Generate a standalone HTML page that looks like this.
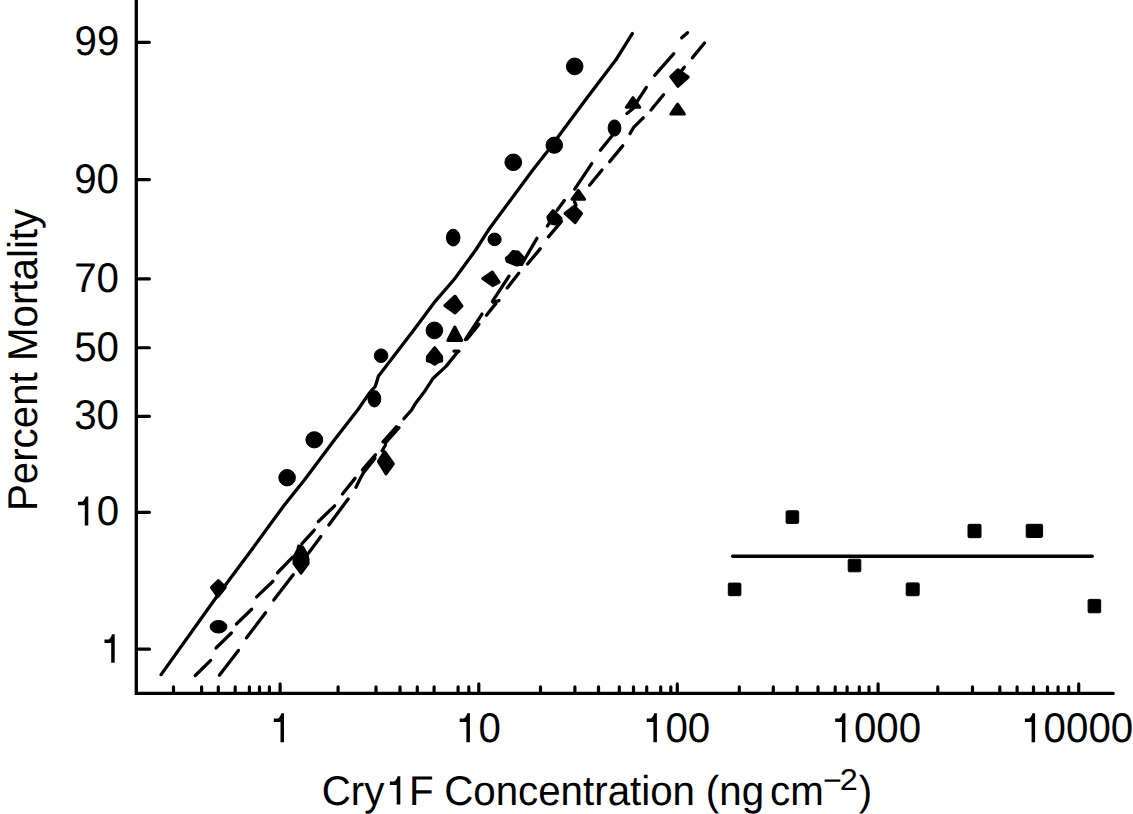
<!DOCTYPE html>
<html><head><meta charset="utf-8"><style>
html,body{margin:0;padding:0;background:#fff;}
svg{display:block;}
text{font-family:"Liberation Sans", sans-serif;fill:#000;text-rendering:geometricPrecision;}
</style></head><body>
<svg width="1133" height="814" viewBox="0 0 1133 814">
<rect width="1133" height="814" fill="#fff"/>
<g stroke="#000" fill="#000">
<path d="M136.3,-5 L136.3,693.4 L1113.2,693.4" fill="none" stroke-width="3.3" stroke-linecap="round" stroke-linejoin="miter"/>
<line x1="136.9" y1="42.35" x2="149.4" y2="42.35" stroke-width="3.2" stroke-linecap="round"/>
<line x1="136.9" y1="179.55" x2="149.4" y2="179.55" stroke-width="3.2" stroke-linecap="round"/>
<line x1="136.9" y1="278.95" x2="149.4" y2="278.95" stroke-width="3.2" stroke-linecap="round"/>
<line x1="136.9" y1="347.75" x2="149.4" y2="347.75" stroke-width="3.2" stroke-linecap="round"/>
<line x1="136.9" y1="416.34999999999997" x2="149.4" y2="416.34999999999997" stroke-width="3.2" stroke-linecap="round"/>
<line x1="136.9" y1="512.35" x2="149.4" y2="512.35" stroke-width="3.2" stroke-linecap="round"/>
<line x1="136.9" y1="649.15" x2="149.4" y2="649.15" stroke-width="3.2" stroke-linecap="round"/>
<line x1="280.1" y1="693.4" x2="280.1" y2="683.9" stroke-width="3.2" stroke-linecap="round"/>
<line x1="478.8" y1="693.4" x2="478.8" y2="683.9" stroke-width="3.2" stroke-linecap="round"/>
<line x1="677.3" y1="693.4" x2="677.3" y2="683.9" stroke-width="3.2" stroke-linecap="round"/>
<line x1="878.1" y1="693.4" x2="878.1" y2="683.9" stroke-width="3.2" stroke-linecap="round"/>
<line x1="1078.7" y1="693.4" x2="1078.7" y2="683.9" stroke-width="3.2" stroke-linecap="round"/>
<line x1="173.5" y1="693.4" x2="173.5" y2="686.9" stroke-width="3.2" stroke-linecap="round"/>
<line x1="201.6" y1="693.4" x2="201.6" y2="686.9" stroke-width="3.2" stroke-linecap="round"/>
<line x1="218.3" y1="693.4" x2="218.3" y2="686.9" stroke-width="3.2" stroke-linecap="round"/>
<line x1="235.2" y1="693.4" x2="235.2" y2="686.9" stroke-width="3.2" stroke-linecap="round"/>
<line x1="249.4" y1="693.4" x2="249.4" y2="686.9" stroke-width="3.2" stroke-linecap="round"/>
<line x1="259.5" y1="693.4" x2="259.5" y2="686.9" stroke-width="3.2" stroke-linecap="round"/>
<line x1="269.4" y1="693.4" x2="269.4" y2="686.9" stroke-width="3.2" stroke-linecap="round"/>
<line x1="338.1" y1="693.4" x2="338.1" y2="686.9" stroke-width="3.2" stroke-linecap="round"/>
<line x1="376.0" y1="693.4" x2="376.0" y2="686.9" stroke-width="3.2" stroke-linecap="round"/>
<line x1="400.0" y1="693.4" x2="400.0" y2="686.9" stroke-width="3.2" stroke-linecap="round"/>
<line x1="417.3" y1="693.4" x2="417.3" y2="686.9" stroke-width="3.2" stroke-linecap="round"/>
<line x1="434.1" y1="693.4" x2="434.1" y2="686.9" stroke-width="3.2" stroke-linecap="round"/>
<line x1="458.1" y1="693.4" x2="458.1" y2="686.9" stroke-width="3.2" stroke-linecap="round"/>
<line x1="468.8" y1="693.4" x2="468.8" y2="686.9" stroke-width="3.2" stroke-linecap="round"/>
<line x1="540.5" y1="693.4" x2="540.5" y2="686.9" stroke-width="3.2" stroke-linecap="round"/>
<line x1="574.9" y1="693.4" x2="574.9" y2="686.9" stroke-width="3.2" stroke-linecap="round"/>
<line x1="598.5" y1="693.4" x2="598.5" y2="686.9" stroke-width="3.2" stroke-linecap="round"/>
<line x1="619.3" y1="693.4" x2="619.3" y2="686.9" stroke-width="3.2" stroke-linecap="round"/>
<line x1="633.5" y1="693.4" x2="633.5" y2="686.9" stroke-width="3.2" stroke-linecap="round"/>
<line x1="646.7" y1="693.4" x2="646.7" y2="686.9" stroke-width="3.2" stroke-linecap="round"/>
<line x1="660.7" y1="693.4" x2="660.7" y2="686.9" stroke-width="3.2" stroke-linecap="round"/>
<line x1="670.8" y1="693.4" x2="670.8" y2="686.9" stroke-width="3.2" stroke-linecap="round"/>
<line x1="739.3" y1="693.4" x2="739.3" y2="686.9" stroke-width="3.2" stroke-linecap="round"/>
<line x1="773.3" y1="693.4" x2="773.3" y2="686.9" stroke-width="3.2" stroke-linecap="round"/>
<line x1="797.2" y1="693.4" x2="797.2" y2="686.9" stroke-width="3.2" stroke-linecap="round"/>
<line x1="818.0" y1="693.4" x2="818.0" y2="686.9" stroke-width="3.2" stroke-linecap="round"/>
<line x1="835.2" y1="693.4" x2="835.2" y2="686.9" stroke-width="3.2" stroke-linecap="round"/>
<line x1="847.1" y1="693.4" x2="847.1" y2="686.9" stroke-width="3.2" stroke-linecap="round"/>
<line x1="859.3" y1="693.4" x2="859.3" y2="686.9" stroke-width="3.2" stroke-linecap="round"/>
<line x1="869.0" y1="693.4" x2="869.0" y2="686.9" stroke-width="3.2" stroke-linecap="round"/>
<line x1="937.8" y1="693.4" x2="937.8" y2="686.9" stroke-width="3.2" stroke-linecap="round"/>
<line x1="972.5" y1="693.4" x2="972.5" y2="686.9" stroke-width="3.2" stroke-linecap="round"/>
<line x1="999.8" y1="693.4" x2="999.8" y2="686.9" stroke-width="3.2" stroke-linecap="round"/>
<line x1="1017.1" y1="693.4" x2="1017.1" y2="686.9" stroke-width="3.2" stroke-linecap="round"/>
<line x1="1033.5" y1="693.4" x2="1033.5" y2="686.9" stroke-width="3.2" stroke-linecap="round"/>
<line x1="1047.5" y1="693.4" x2="1047.5" y2="686.9" stroke-width="3.2" stroke-linecap="round"/>
<line x1="1058.1" y1="693.4" x2="1058.1" y2="686.9" stroke-width="3.2" stroke-linecap="round"/>
<line x1="1068.7" y1="693.4" x2="1068.7" y2="686.9" stroke-width="3.2" stroke-linecap="round"/>
<polyline points="161.1,674.6 216.3,597.2 251.5,550 284,505.5 304.4,480 334.9,439.3 357.7,410 369.5,392.9 375.2,386.5 377.3,380 378.5,376 380.5,373.5 413.8,330 435.4,301.1 454.5,279 475.7,250 488.6,229.8 532.8,170 548.5,150 557.8,137.2 585.4,100 615.9,59.8 632.3,33.6" fill="none" stroke-width="3.3" stroke-linecap="round" stroke-linejoin="round"/>
<line x1="195.33" y1="675.48" x2="210.67" y2="660.42" stroke-width="3.3" stroke-linecap="round"/>
<line x1="216.03" y1="647.98" x2="231.37" y2="633.02" stroke-width="3.3" stroke-linecap="round"/>
<line x1="236.43" y1="623.98" x2="251.67" y2="609.22" stroke-width="3.3" stroke-linecap="round"/>
<line x1="256.63" y1="596.89" x2="272.97" y2="581.31" stroke-width="3.3" stroke-linecap="round"/>
<line x1="277.52" y1="572.77" x2="292.68" y2="557.13" stroke-width="3.3" stroke-linecap="round"/>
<line x1="301.8" y1="543.86" x2="314.3" y2="530.04" stroke-width="3.3" stroke-linecap="round"/>
<line x1="318.43" y1="521.48" x2="334.57" y2="505.82" stroke-width="3.3" stroke-linecap="round"/>
<line x1="342.48" y1="493.93" x2="355.02" y2="478.37" stroke-width="3.3" stroke-linecap="round"/>
<line x1="362.39" y1="469.95" x2="375.41" y2="454.85" stroke-width="3.3" stroke-linecap="round"/>
<line x1="219.37" y1="675.22" x2="238.43" y2="650.38" stroke-width="3.3" stroke-linecap="round"/>
<line x1="246.56" y1="637.82" x2="265.54" y2="612.78" stroke-width="3.3" stroke-linecap="round"/>
<line x1="273.76" y1="600.12" x2="293.24" y2="574.68" stroke-width="3.3" stroke-linecap="round"/>
<line x1="308.16" y1="553.62" x2="320.84" y2="536.48" stroke-width="3.3" stroke-linecap="round"/>
<line x1="328.86" y1="524.92" x2="348.14" y2="498.98" stroke-width="3.3" stroke-linecap="round"/>
<line x1="383.0" y1="441.85" x2="396.6" y2="426.65" stroke-width="3.3" stroke-linecap="round"/>
<line x1="385.2" y1="443.15" x2="399.0" y2="427.75" stroke-width="3.3" stroke-linecap="round"/>
<line x1="382.1" y1="450.78" x2="385.5" y2="445.02" stroke-width="3.3" stroke-linecap="round"/>
<line x1="454.1" y1="351.2" x2="458.9" y2="351.2" stroke-width="3.3" stroke-linecap="round"/>
<line x1="465.43" y1="339.5" x2="481.97" y2="314.1" stroke-width="3.3" stroke-linecap="round"/>
<line x1="467.18" y1="339.03" x2="478.92" y2="324.37" stroke-width="3.3" stroke-linecap="round"/>
<line x1="486.47" y1="315.33" x2="495.93" y2="303.37" stroke-width="3.3" stroke-linecap="round"/>
<line x1="493.18" y1="302.24" x2="499.02" y2="300.56" stroke-width="3.3" stroke-linecap="round"/>
<line x1="492.43" y1="301.3" x2="508.97" y2="276.2" stroke-width="3.3" stroke-linecap="round"/>
<line x1="507.17" y1="288.03" x2="518.73" y2="273.27" stroke-width="3.3" stroke-linecap="round"/>
<line x1="521.7" y1="264.38" x2="536.9" y2="238.32" stroke-width="3.3" stroke-linecap="round"/>
<line x1="527.49" y1="263.94" x2="540.21" y2="248.86" stroke-width="3.3" stroke-linecap="round"/>
<line x1="548.39" y1="236.84" x2="561.31" y2="221.56" stroke-width="3.3" stroke-linecap="round"/>
<line x1="547.34" y1="226.0" x2="549.66" y2="222.6" stroke-width="3.3" stroke-linecap="round"/>
<line x1="557.15" y1="210.32" x2="564.35" y2="200.48" stroke-width="3.3" stroke-linecap="round"/>
<line x1="574.73" y1="189.1" x2="591.77" y2="163.6" stroke-width="3.3" stroke-linecap="round"/>
<line x1="574.54" y1="201.75" x2="576.06" y2="205.25" stroke-width="3.3" stroke-linecap="round"/>
<line x1="589.48" y1="185.24" x2="602.02" y2="169.96" stroke-width="3.3" stroke-linecap="round"/>
<line x1="600.38" y1="150.33" x2="611.92" y2="135.97" stroke-width="3.3" stroke-linecap="round"/>
<line x1="609.68" y1="161.64" x2="622.72" y2="145.86" stroke-width="3.3" stroke-linecap="round"/>
<line x1="626.96" y1="113.52" x2="633.74" y2="107.98" stroke-width="3.3" stroke-linecap="round"/>
<line x1="634.83" y1="105.0" x2="646.37" y2="87.4" stroke-width="3.3" stroke-linecap="round"/>
<line x1="650.98" y1="110.04" x2="663.52" y2="94.76" stroke-width="3.3" stroke-linecap="round"/>
<line x1="654.7" y1="75.35" x2="673.8" y2="53.65" stroke-width="3.3" stroke-linecap="round"/>
<line x1="681.67" y1="70.63" x2="684.33" y2="67.17" stroke-width="3.3" stroke-linecap="round"/>
<line x1="681.75" y1="37.8" x2="687.55" y2="32.7" stroke-width="3.3" stroke-linecap="round"/>
<line x1="692.28" y1="57.84" x2="704.52" y2="43.06" stroke-width="3.3" stroke-linecap="round"/>
<polyline points="356,487.3 359.5,480 363.5,472.6 375,458.2" fill="none" stroke-width="3.3" stroke-linecap="round" stroke-linejoin="round"/>
<polyline points="403.9,418.7 411.6,410 415.6,403.2 424.9,390.9 433.2,378.2 446,366.4 458,351.5" fill="none" stroke-width="3.3" stroke-linecap="round" stroke-linejoin="round"/>
<polyline points="630,133.6 633.4,127.7 643.2,117.8" fill="none" stroke-width="3.3" stroke-linecap="round" stroke-linejoin="round"/>
<line x1="732.7" y1="556.3" x2="1092.2" y2="556.3" stroke-width="3.4" stroke-linecap="round"/>
<ellipse cx="218.5" cy="626.7" rx="8.4" ry="6.3"/>
<ellipse cx="287.1" cy="477.7" rx="8.3" ry="8.2"/>
<ellipse cx="314.3" cy="439.8" rx="8.4" ry="8.1"/>
<ellipse cx="374.4" cy="398.8" rx="6.4" ry="8.2"/>
<ellipse cx="381.1" cy="355.7" rx="6.8" ry="6.8"/>
<ellipse cx="434.4" cy="330.4" rx="8.3" ry="8.4"/>
<ellipse cx="453.2" cy="237.6" rx="6.8" ry="8.4"/>
<ellipse cx="494.6" cy="239.4" rx="6.6" ry="6.3"/>
<ellipse cx="513.3" cy="162.3" rx="8.4" ry="8.3"/>
<ellipse cx="554.3" cy="145.2" rx="8.3" ry="8.1"/>
<ellipse cx="574.7" cy="66.4" rx="8.3" ry="8.4"/>
<ellipse cx="614.5" cy="128.0" rx="6.4" ry="8.1"/>
<polygon points="218.40,580.55 225.29,587.27 218.02,596.56 211.29,587.48" stroke="#000" stroke-width="3.0" stroke-linejoin="round"/>
<polygon points="298.57,546.08 302.42,546.87 307.09,554.87 308.05,559.58 308.05,563.65 301.00,573.23 294.05,563.66 294.05,556.69 297.71,549.97" stroke="#000" stroke-width="3.0" stroke-linejoin="round"/>
<polygon points="384.73,451.64 393.38,463.89 386.05,473.95 378.39,461.41" stroke="#000" stroke-width="3.0" stroke-linejoin="round"/>
<polygon points="455.07,296.23 461.93,306.11 455.12,312.92 444.79,305.63" stroke="#000" stroke-width="3.0" stroke-linejoin="round"/>
<polygon points="492.39,272.04 499.12,282.13 492.66,285.62 482.81,278.52" stroke="#000" stroke-width="3.0" stroke-linejoin="round"/>
<polygon points="512.92,251.57 518.15,251.93 522.89,257.22 521.56,264.15 516.58,265.02 507.03,261.24 506.25,258.10 509.22,255.85" stroke="#000" stroke-width="3.0" stroke-linejoin="round"/>
<polygon points="552.97,210.60 560.80,218.06 561.18,220.69 554.80,224.10 549.60,222.78 547.83,216.87" stroke="#000" stroke-width="3.0" stroke-linejoin="round"/>
<polygon points="574.34,206.29 581.62,213.49 575.17,222.67 564.97,213.45" stroke="#000" stroke-width="3.0" stroke-linejoin="round"/>
<polygon points="677.87,69.77 688.20,77.07 677.91,86.29 670.70,76.59" stroke="#000" stroke-width="3.0" stroke-linejoin="round"/>
<polygon points="434.69,347.62 441.65,356.75 441.65,361.08 438.30,361.69 434.67,364.29 430.61,361.71 427.35,360.74 427.35,356.76" stroke="#000" stroke-width="3.0" stroke-linejoin="round"/>
<polygon points="454.80,327.03 461.77,340.45 447.83,340.45" stroke="#000" stroke-width="3.0" stroke-linejoin="round"/>
<polygon points="578.30,190.40 584.65,199.35 571.95,199.35" stroke="#000" stroke-width="3.0" stroke-linejoin="round"/>
<polygon points="633.00,97.70 639.75,107.25 626.25,107.25" stroke="#000" stroke-width="3.0" stroke-linejoin="round"/>
<polygon points="677.60,104.13 684.38,114.05 670.82,114.05" stroke="#000" stroke-width="3.0" stroke-linejoin="round"/>
<rect x="728.3000000000001" y="583.1" width="12.6" height="12.6" rx="1.2"/>
<rect x="786.1" y="510.8" width="12.6" height="12.6" rx="1.2"/>
<rect x="848.2" y="559.2" width="12.6" height="12.6" rx="1.2"/>
<rect x="906.2" y="582.9" width="13" height="12.8" rx="1.2"/>
<rect x="968.0" y="524.3" width="13" height="13.4" rx="1.2"/>
<rect x="1026.2" y="524.3" width="16.4" height="13.2" rx="1.2"/>
<rect x="1088.1000000000001" y="599.4" width="12.6" height="13.4" rx="1.2"/>
</g>
<g>
<text transform="translate(74.50,55.40) scale(0.9687,1)" font-size="41.6">9</text>
<text transform="translate(96.91,55.40) scale(0.9687,1)" font-size="41.6">9</text>
<text transform="translate(74.20,192.60) scale(0.9687,1)" font-size="41.6">9</text>
<text transform="translate(96.61,192.60) scale(0.9687,1)" font-size="41.6">0</text>
<text transform="translate(74.20,292.00) scale(0.9687,1)" font-size="41.6">7</text>
<text transform="translate(96.61,292.00) scale(0.9687,1)" font-size="41.6">0</text>
<text transform="translate(74.20,360.80) scale(0.9687,1)" font-size="41.6">5</text>
<text transform="translate(96.61,360.80) scale(0.9687,1)" font-size="41.6">0</text>
<text transform="translate(74.20,429.40) scale(0.9687,1)" font-size="41.6">3</text>
<text transform="translate(96.61,429.40) scale(0.9687,1)" font-size="41.6">0</text>
<path d="M88.30,525.40 L88.30,496.50 L85.60,496.50 C85.00,498.70 83.70,501.10 82.10,501.80 L78.10,501.80 L78.10,505.30 L84.80,505.30 L84.80,525.40 Z"/>
<text transform="translate(96.81,525.40) scale(0.9687,1)" font-size="41.6">0</text>
<path d="M114.70,662.80 L114.70,634.20 L112.00,634.20 C111.40,636.40 110.10,638.80 108.50,639.50 L104.50,639.50 L104.50,643.00 L111.20,643.00 L111.20,662.80 Z"/>
<path d="M284.00,742.20 L284.00,713.30 L281.30,713.30 C280.70,715.50 279.40,717.90 277.80,718.60 L273.80,718.60 L273.80,722.10 L280.50,722.10 L280.50,742.20 Z"/>
<path d="M469.90,742.20 L469.90,713.30 L467.20,713.30 C466.60,715.50 465.30,717.90 463.70,718.60 L459.70,718.60 L459.70,722.10 L466.40,722.10 L466.40,742.20 Z"/>
<text transform="translate(478.41,742.20) scale(0.9687,1)" font-size="41.6">0</text>
<path d="M656.90,742.20 L656.90,713.30 L654.20,713.30 C653.60,715.50 652.30,717.90 650.70,718.60 L646.70,718.60 L646.70,722.10 L653.40,722.10 L653.40,742.20 Z"/>
<text transform="translate(665.41,742.20) scale(0.9687,1)" font-size="41.6">0</text>
<text transform="translate(687.81,742.20) scale(0.9687,1)" font-size="41.6">0</text>
<path d="M845.40,742.20 L845.40,713.30 L842.70,713.30 C842.10,715.50 840.80,717.90 839.20,718.60 L835.20,718.60 L835.20,722.10 L841.90,722.10 L841.90,742.20 Z"/>
<text transform="translate(853.91,742.20) scale(0.9687,1)" font-size="41.6">0</text>
<text transform="translate(876.31,742.20) scale(0.9687,1)" font-size="41.6">0</text>
<text transform="translate(898.72,742.20) scale(0.9687,1)" font-size="41.6">0</text>
<path d="M1035.10,742.20 L1035.10,713.30 L1032.40,713.30 C1031.80,715.50 1030.50,717.90 1028.90,718.60 L1024.90,718.60 L1024.90,722.10 L1031.60,722.10 L1031.60,742.20 Z"/>
<text transform="translate(1043.61,742.20) scale(0.9687,1)" font-size="41.6">0</text>
<text transform="translate(1066.01,742.20) scale(0.9687,1)" font-size="41.6">0</text>
<text transform="translate(1088.42,742.20) scale(0.9687,1)" font-size="41.6">0</text>
<text transform="translate(1110.83,742.20) scale(0.9687,1)" font-size="41.6">0</text>
<text transform="translate(321.75,804.50) scale(0.9687,1)" font-size="41.6">Cry</text>
<path d="M400.30,804.50 L400.30,776.20 L397.60,776.20 C397.00,778.40 395.70,780.80 394.10,781.50 L389.90,781.50 L389.90,785.00 L396.70,785.00 L396.70,804.50 Z"/>
<text transform="translate(408.90,804.50) scale(0.9687,1)" font-size="41.6">F</text>
<text transform="translate(444.15,804.50) scale(0.9687,1)" font-size="41.6">Concentration</text>
<text transform="translate(705.80,804.50) scale(0.9687,1)" font-size="41.6">(ng</text>
<text transform="translate(770.09,804.50) scale(0.9687,1)" font-size="41.6">cm</text>
<text transform="translate(823.11,791.30) scale(1.04,1)" font-size="31">−</text>
<text transform="translate(839.77,790.20) scale(1.08,1)" font-size="30">2</text>
<text transform="translate(858.66,804.50) scale(0.9687,1)" font-size="41.6">)</text>
<text transform="translate(37.2,511.10) rotate(-90) scale(0.9687,1)" font-size="41.6">Percent Mortality</text>
</g>
</svg>
</body></html>
